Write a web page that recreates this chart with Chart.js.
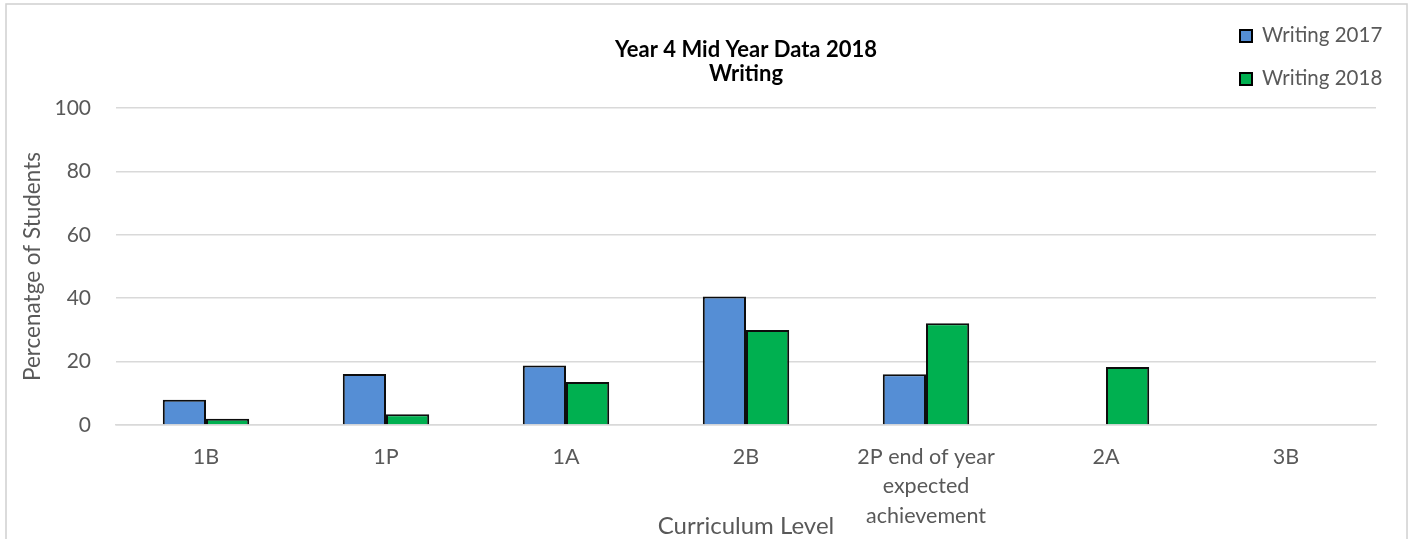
<!DOCTYPE html>
<html>
<head>
<meta charset="utf-8">
<script src="https://cdn.jsdelivr.net/npm/chart.js@4.4.0/dist/chart.umd.min.js"></script>
<style>
  html, body { margin: 0; padding: 0; background: #fff; }
  #wrap { width: 1409px; height: 539px; }
</style>
</head>
<body>
<div id="wrap"><canvas id="levelChart" width="1409" height="539"></canvas></div>
<script>
// Curriculum levels along the x axis (multi-line labels are arrays)
const levels = ['1B', '1P', '1A', '2B', ['2P end of year', 'expected', 'achievement'], '2A', '3B'];

// Percentage of students at each level
const writing2017 = [8, 16.1, 18.8, 40.5, 16, 0, 0];
const writing2018 = [2, 3.4, 13.6, 30, 32.1, 18.3, 0];

const yTicks = [0, 20, 40, 60, 80, 100];

const FONT = "Lato, 'Open Sans', sans-serif";
const TEXT_GREY = '#595959';
const GRID_GREY = '#d9d9d9';

// Outer frame round the chart
const framePlugin = {
    id: 'frame',
    beforeDraw(chart) {
        const ctx = chart.ctx;
        ctx.save();
        ctx.strokeStyle = '#d0d0d0';
        ctx.lineWidth = 1.5;
        ctx.strokeRect(6, 4, chart.width - 8, chart.height + 20);
        ctx.restore();
    }
};

// Stacked legend in the top-right corner, built from the datasets
const cornerLegend = {
    id: 'cornerLegend',
    afterDraw(chart) {
        const ctx = chart.ctx;
        ctx.save();
        ctx.font = '20.5px ' + FONT;
        ctx.textBaseline = 'middle';
        ctx.textAlign = 'left';
        chart.data.datasets.forEach((ds, i) => {
            const x = 1240;
            const y = 35 + i * 43;
            ctx.fillStyle = ds.backgroundColor;
            ctx.fillRect(x, y - 5, 12, 12);
            ctx.strokeStyle = '#000';
            ctx.lineWidth = 2;
            ctx.strokeRect(x, y - 5, 12, 12);
            ctx.fillStyle = TEXT_GREY;
            ctx.fillText(ds.label, x + 22, y);
        });
        ctx.restore();
    }
};

const ctx = document.getElementById('levelChart').getContext('2d');

new Chart(ctx, {
    type: 'bar',
    data: {
        labels: levels,
        datasets: [
            {
                label: 'Writing 2017',
                data: writing2017,
                backgroundColor: '#558ed5',
                borderColor: '#0d0d0d',
                borderWidth: 2,
                borderSkipped: 'bottom',
                barPercentage: 1,
                categoryPercentage: 0.48
            },
            {
                label: 'Writing 2018',
                data: writing2018,
                backgroundColor: '#00b050',
                borderColor: '#0d0d0d',
                borderWidth: 2,
                borderSkipped: 'bottom',
                barPercentage: 1,
                categoryPercentage: 0.48
            }
        ]
    },
    options: {
        responsive: false,
        animation: false,
        layout: {
            padding: { left: 0, right: 33, top: 0, bottom: 0 }
        },
        scales: {
            x: {
                grid: { display: false, drawTicks: false },
                border: { display: true, color: GRID_GREY, width: 1.5 },
                ticks: {
                    color: TEXT_GREY,
                    font: { family: FONT, size: 21.5, lineHeight: 1.37 },
                    padding: 17,
                    maxRotation: 0,
                    autoSkip: false
                },
                title: {
                    display: true,
                    text: 'Curriculum Level',
                    color: TEXT_GREY,
                    font: { family: FONT, size: 24, lineHeight: 1 },
                    padding: { top: 0, bottom: 1 }
                },
                afterFit(scale) { scale.height = 114; }
            },
            y: {
                min: 0,
                max: 100,
                afterBuildTicks(scale) {
                    scale.ticks = yTicks.map(v => ({ value: v }));
                },
                grid: { color: GRID_GREY, lineWidth: 1.5, drawTicks: false },
                border: { display: false },
                ticks: {
                    color: TEXT_GREY,
                    font: { family: FONT, size: 21 },
                    padding: 25
                },
                title: {
                    display: true,
                    text: 'Percenatge of Students',
                    color: TEXT_GREY,
                    font: { family: FONT, size: 22.5 },
                    padding: { top: 19.5, bottom: 0 }
                },
                afterFit(scale) { scale.width = 116; }
            }
        },
        plugins: {
            legend: { display: false },
            tooltip: { enabled: false },
            title: {
                display: true,
                fullSize: false,
                text: ['Year 4 Mid Year Data 2018', 'Writing'],
                color: '#000',
                font: { family: FONT, size: 22, weight: 'bold', lineHeight: 1.1 },
                padding: { top: 38, bottom: 21.6 }
            }
        }
    },
    plugins: [framePlugin, cornerLegend]
});
</script>
</body>
</html>
